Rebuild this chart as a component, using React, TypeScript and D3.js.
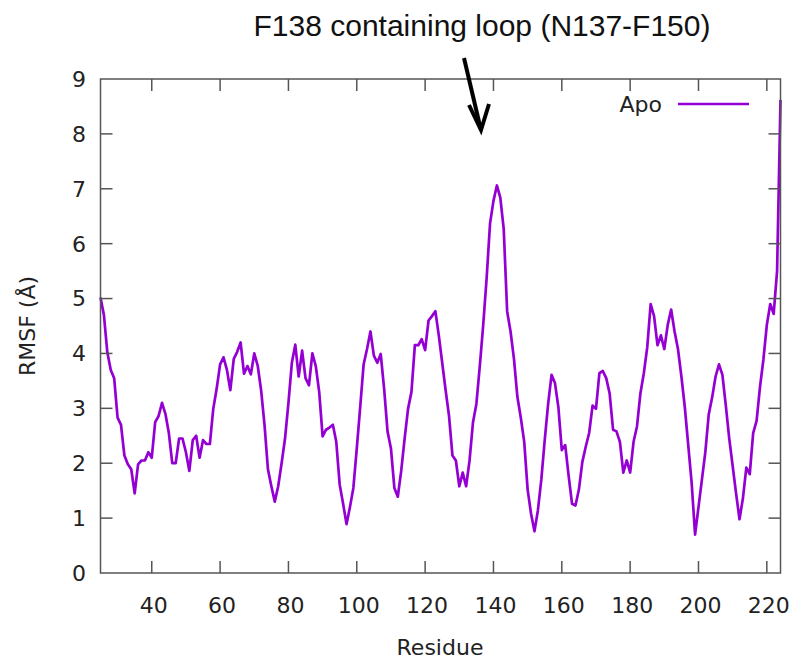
import React from "react";
import * as d3 from "d3";

const firstResidue = 25;
const rmsf: number[] = [
  5.02, 4.7, 4.02, 3.7, 3.55, 2.83, 2.7, 2.14, 1.98, 1.89,
  1.45, 1.98, 2.05, 2.05, 2.2, 2.1, 2.75, 2.86, 3.1, 2.9,
  2.55, 2.0, 2.0, 2.45, 2.45, 2.2, 1.86, 2.42, 2.5, 2.1,
  2.42, 2.35, 2.35, 2.99, 3.36, 3.8, 3.93, 3.7, 3.33, 3.9,
  4.03, 4.2, 3.63, 3.77, 3.62, 4.0, 3.78, 3.33, 2.7, 1.89,
  1.58, 1.3, 1.58, 2.0, 2.45, 3.1, 3.83, 4.16, 3.58, 4.05,
  3.55, 3.42, 4.0, 3.77, 3.3, 2.49, 2.61, 2.65, 2.7, 2.39,
  1.61, 1.26, 0.89, 1.2, 1.55, 2.27, 3.02, 3.8, 4.08, 4.4,
  3.96, 3.83, 3.99, 3.36, 2.58, 2.27, 1.55, 1.39, 1.86, 2.45,
  2.99, 3.3, 4.15, 4.15, 4.26, 4.06, 4.6, 4.68, 4.77, 4.33,
  3.83, 3.33, 2.86, 2.14, 2.05, 1.58, 1.83, 1.58, 2.05, 2.74,
  3.08, 3.77, 4.52, 5.37, 6.37, 6.78, 7.06, 6.84, 6.27, 4.77,
  4.4, 3.9, 3.21, 2.83, 2.39, 1.52, 1.08, 0.76, 1.14, 1.7,
  2.42, 3.08, 3.61, 3.46, 3.02, 2.24, 2.33, 1.77, 1.26, 1.23,
  1.52, 2.02, 2.3, 2.55, 3.05, 2.99, 3.64, 3.68, 3.55, 3.27,
  2.61, 2.58, 2.39, 1.83, 2.05, 1.83, 2.39, 2.67, 3.27, 3.64,
  4.11, 4.9, 4.68, 4.15, 4.33, 4.08, 4.52, 4.8, 4.4, 4.08,
  3.58, 3.02, 2.33, 1.64, 0.7, 1.2, 1.7, 2.2, 2.89, 3.2,
  3.58, 3.8, 3.61, 3.05, 2.45, 1.95, 1.45, 0.98, 1.36, 1.92,
  1.8, 2.55, 2.77, 3.39, 3.89, 4.52, 4.9, 4.72, 5.5, 8.62,
];
const residues: number[] = rmsf.map((_, i) => firstResidue + i);

const xTicks = [40, 60, 80, 100, 120, 140, 160, 180, 200, 220];
const yTicks = [0, 1, 2, 3, 4, 5, 6, 7, 8, 9];
const xDomain = [25, 224];
const yDomain = [0, 9];

const seriesName = "Apo";
const xLabel = "Residue";
const yLabel = "RMSF (Å)";
const annotation = "F138 containing loop (N137-F150)";

const W = 795;
const H = 662;
const M = { left: 100.5, right: 780.5, top: 79, bottom: 573 };
const LINE = "#9400d3";
const AXIS = "#555";
const TICK_LEN = 12;

export default function App() {
  const x = d3.scaleLinear().domain(xDomain).range([M.left, M.right]);
  const y = d3.scaleLinear().domain(yDomain).range([M.bottom, M.top]);
  const line = d3
    .line<number>()
    .x((_, i) => x(residues[i]))
    .y((d) => y(d));
  const tickFont = "DejaVu Sans, Verdana, sans-serif";

  return (
    <svg
      width={W}
      height={H}
      style={{ position: "absolute", left: 0, top: 0, background: "#fff" }}
    >
      <rect x={0} y={0} width={W} height={H} fill="#fff" />
      <path
        d={line(rmsf) || ""}
        fill="none"
        stroke={LINE}
        strokeWidth={2.7}
        strokeLinejoin="round"
      />
      <rect
        x={M.left}
        y={M.top}
        width={M.right - M.left}
        height={M.bottom - M.top}
        fill="none"
        stroke={AXIS}
        strokeWidth={1.5}
      />
      {xTicks.map((t) => (
        <g key={"x" + t}>
          <line x1={x(t)} x2={x(t)} y1={M.bottom} y2={M.bottom - TICK_LEN} stroke={AXIS} strokeWidth={1.5} />
          <line x1={x(t)} x2={x(t)} y1={M.top} y2={M.top + TICK_LEN} stroke={AXIS} strokeWidth={1.5} />
          <text
            x={x(t) + 2}
            y={613}
            textAnchor="middle"
            fontFamily={tickFont}
            fontSize={22}
            fill="#222"
          >
            {t}
          </text>
        </g>
      ))}
      {yTicks.map((t) => (
        <g key={"y" + t}>
          {t > yDomain[0] && t < yDomain[1] && (
            <>
              <line x1={M.left} x2={M.left + TICK_LEN} y1={y(t)} y2={y(t)} stroke={AXIS} strokeWidth={1.5} />
              <line x1={M.right} x2={M.right - TICK_LEN} y1={y(t)} y2={y(t)} stroke={AXIS} strokeWidth={1.5} />
            </>
          )}
          <text
            x={86}
            y={y(t)}
            dy="0.36em"
            textAnchor="end"
            fontFamily={tickFont}
            fontSize={22}
            fill="#222"
          >
            {t}
          </text>
        </g>
      ))}
      <text x={440} y={655} textAnchor="middle" fontFamily={tickFont} fontSize={22} fill="#222">
        {xLabel}
      </text>
      <text
        transform={`translate(35, ${(M.top + M.bottom) / 2}) rotate(-90)`}
        textAnchor="middle"
        fontFamily={tickFont}
        fontSize={22}
        fill="#222"
      >
        {yLabel}
      </text>
      <text x={662} y={104} dy="0.36em" textAnchor="end" fontFamily={tickFont} fontSize={22} fill="#222">
        {seriesName}
      </text>
      <line x1={678} x2={749} y1={104} y2={104} stroke={LINE} strokeWidth={2.7} />
      <text
        x={482}
        y={36}
        textAnchor="middle"
        fontFamily="Liberation Sans, Arial, sans-serif"
        fontSize={30}
        fill="#111"
      >
        {annotation}
      </text>
      <line x1={464} y1={58} x2={480} y2={126} stroke="#000" strokeWidth={4} />
      <path
        d="M 469 105 L 481 130 L 489 104"
        fill="none"
        stroke="#000"
        strokeWidth={4}
        strokeLinejoin="miter"
      />
    </svg>
  );
}
